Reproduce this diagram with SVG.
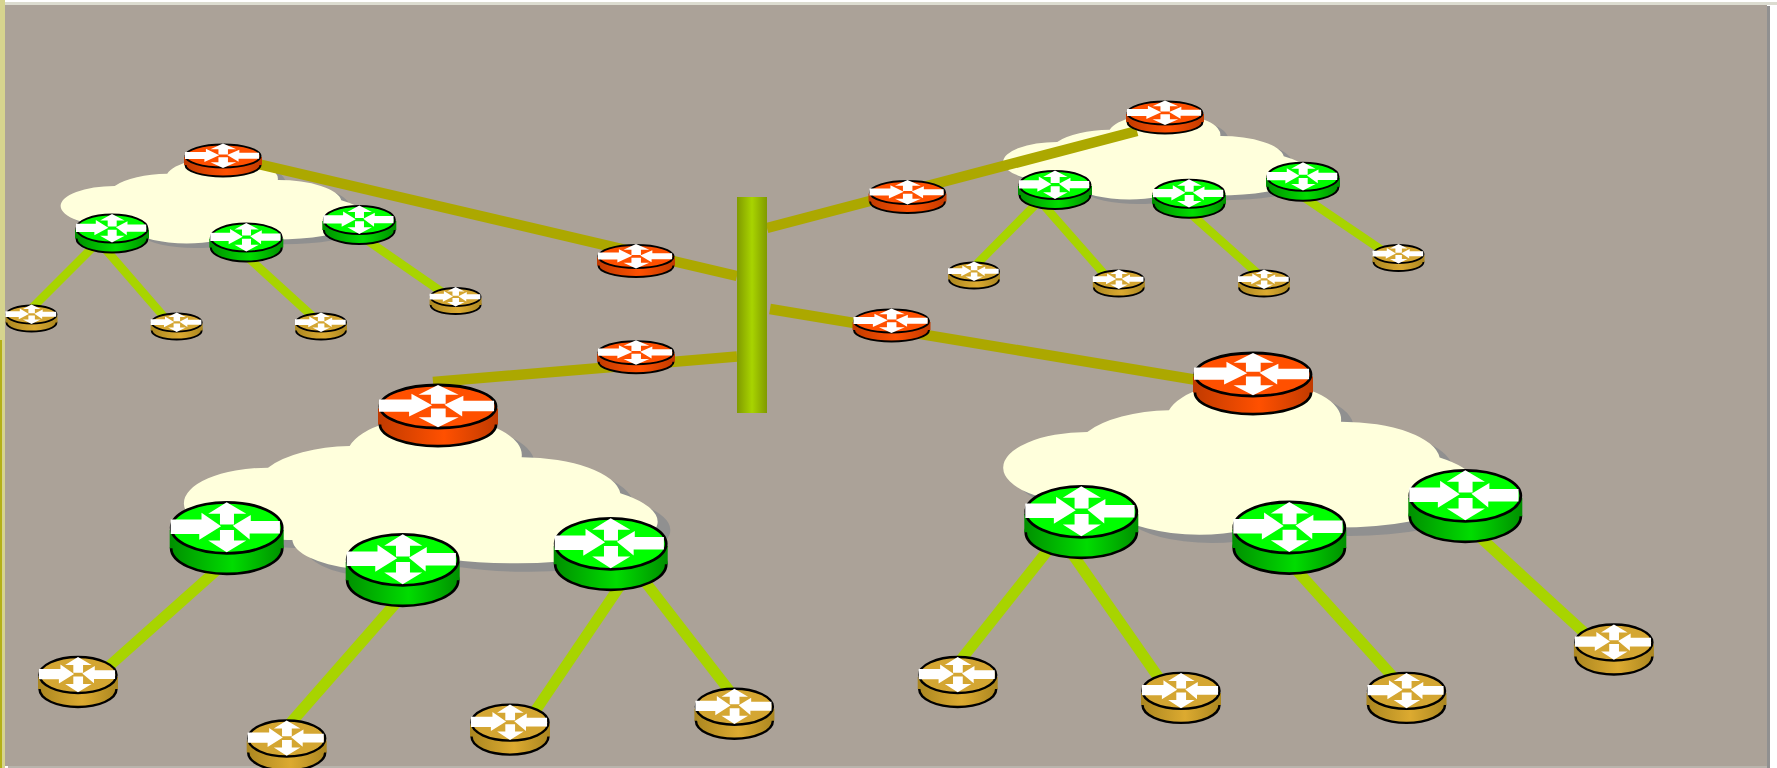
<svg xmlns="http://www.w3.org/2000/svg" width="1777" height="768" viewBox="0 0 1777 768">
<style>
.ol{fill:none;stroke:#aca800;stroke-width:10.5}
.lb{fill:none;stroke:#a8d400;stroke-width:11}
.ls{fill:none;stroke:#a8d400;stroke-width:8.5}
.o{stroke:#000}
.w{fill:#fff}
.r{fill:#ff5000}.g{fill:#00ff00}.t{fill:#d4a632}
</style>
<defs>
<linearGradient id="gr"><stop offset="0" stop-color="#c03a00"/><stop offset=".55" stop-color="#ff5000"/><stop offset="1" stop-color="#c03a00"/></linearGradient>
<linearGradient id="gg"><stop offset="0" stop-color="#008f00"/><stop offset=".55" stop-color="#00dc00"/><stop offset="1" stop-color="#008f00"/></linearGradient>
<linearGradient id="gt"><stop offset="0" stop-color="#aa8620"/><stop offset=".55" stop-color="#dcaa30"/><stop offset="1" stop-color="#aa8620"/></linearGradient>
<linearGradient id="gb"><stop offset="0" stop-color="#809a00"/><stop offset=".5" stop-color="#a8d400"/><stop offset="1" stop-color="#809a00"/></linearGradient>
<g id="arr">
<polygon class="w" points="-1,-.33 -.45,-.33 -.45,-.59 -.1,-.06 -.49,.47 -.49,.24 -1,.24"/>
<polygon class="w" points=".95,-.27 .43,-.27 .43,-.5 .11,-.08 .41,.46 .41,.22 .95,.22"/>
<polygon class="w" points="0,-1 -.33,-.55 -.12,-.55 -.12,-.13 .13,-.13 .13,-.55 .35,-.55"/>
<polygon class="w" points="0,.96 -.33,.5 -.12,.5 -.12,.09 .13,.09 .13,.5 .35,.5"/>
</g>
<g id="red-big"><ellipse cy="18" rx="58" ry="21.5" class="o" stroke-width="2.8"/><path d="M-60,2V18H-56.7A56.7,20.2 0 0 0 56.7,18H60V2Z" fill="url(#gr)"/><ellipse rx="58" ry="21.5" class="o r" stroke-width="2.8"/><use href="#arr" transform="scale(59,21.5)"/></g>
<g id="green-big"><ellipse cy="20.5" rx="55.5" ry="25.5" class="o" stroke-width="2.8"/><path d="M-57,2V20.5H-54.2A54.2,24.2 0 0 0 54.2,20.5H57V2Z" fill="url(#gg)"/><ellipse rx="55.5" ry="25.5" class="o g" stroke-width="2.8"/><use href="#arr" transform="scale(56,25.5)"/></g>
<g id="tan-big"><ellipse cy="14" rx="38.5" ry="18" class="o" stroke-width="2.4"/><path d="M-40,2V14H-37.3A37.3,16.8 0 0 0 37.3,14H40V2Z" fill="url(#gt)"/><ellipse rx="38.5" ry="18" class="o t" stroke-width="2.4"/><use href="#arr" transform="scale(39,18)"/></g>
<g id="red-small"><ellipse cy="9" rx="37.5" ry="11.5" class="o" stroke-width="2"/><path d="M-39,1V9H-36.5A36.5,10.5 0 0 0 36.5,9H39V1Z" fill="url(#gr)"/><ellipse rx="37.5" ry="11.5" class="o r" stroke-width="2"/><use href="#arr" transform="scale(38,12.5)"/></g>
<g id="green-small"><ellipse cy="10" rx="35.5" ry="14" class="o" stroke-width="2"/><path d="M-37,1V10H-34.5A34.5,13 0 0 0 34.5,10H37V1Z" fill="url(#gg)"/><ellipse rx="35.5" ry="14" class="o g" stroke-width="2"/><use href="#arr" transform="scale(36,14.5)"/></g>
<g id="tan-small"><ellipse cy="8" rx="25" ry="9" class="o" stroke-width="1.8"/><path d="M-26,1V8H-24.1A24.1,8.1 0 0 0 24.1,8H26V1Z" fill="url(#gt)"/><ellipse rx="25" ry="9" class="o t" stroke-width="1.8"/><use href="#arr" transform="scale(26,10)"/></g>
<path id="cl" d="M295,203A300,130 0 0 1 540,138A262,115 0 0 1 1056,172A296,118 0 0 1 1352,280A420,125 0 0 1 1040,490A420,125 0 0 1 835,477A264,94 0 0 1 368,420Q340,420 300,417A255,107 0 0 1 295,203Z"/>
</defs>
<rect width="1777" height="768" fill="#fff"/>
<g id="frame">
<rect x="0" y="2" width="1777" height="3" fill="#dcdcd0"/>
<rect x="8" y="766" width="1762" height="2" fill="#b8b4ac"/>
<rect x="1767" y="6" width="3" height="762" fill="#909090"/>
<rect x="0" y="0" width="5" height="768" fill="#d6d48e"/>
<rect x="0" y="340" width="2" height="428" fill="#b4b018"/>
<rect x="5" y="5" width="1762" height="761" fill="#aba298"/>
</g>
<g id="cloud-bl" transform="translate(169.7,400) scale(.3333)"><use href="#cl" fill="#909090" transform="translate(38,25)"/><use href="#cl" fill="#ffffdc"/></g>
<g id="cloud-br" transform="translate(989,364.3) scale(.3333)"><use href="#cl" fill="#909090" transform="translate(38,25)"/><use href="#cl" fill="#ffffdc"/></g>
<g id="cloud-tl" transform="translate(51.5,148) scale(.2143,.1867)"><use href="#cl" fill="#909090" transform="translate(38,25)"/><use href="#cl" fill="#ffffdc"/></g>
<g id="cloud-tr" transform="translate(994,104) scale(.2143,.1867)"><use href="#cl" fill="#909090" transform="translate(38,25)"/><use href="#cl" fill="#ffffdc"/></g>
<g id="connectors">
<path class="ol" d="M258,164L737,276"/>
<path class="ol" d="M767,228L1137,131"/>
<path class="ol" d="M770,309L1203,381"/>
<path class="ol" d="M737,356.5L433,382"/>
<path class="lb" d="M227,561L98,676"/>
<path class="lb" d="M402,596L280,735"/>
<path class="lb" d="M626,577L523,729"/>
<path class="lb" d="M636,570L742,707"/>
<path class="lb" d="M1060,535L952,671"/>
<path class="lb" d="M1066,545L1168,691"/>
<path class="lb" d="M1290,563L1404,689"/>
<path class="lb" d="M1470,528L1600,647"/>
<path class="ls" d="M100,240L28,312"/>
<path class="ls" d="M100,243L172,326"/>
<path class="ls" d="M243,253L322,325"/>
<path class="ls" d="M358,234L452,299"/>
<path class="ls" d="M1043,197L968,273"/>
<path class="ls" d="M1040,201L1113,284"/>
<path class="ls" d="M1182,206L1266,281"/>
<path class="ls" d="M1299,194L1395,259"/>
</g>
<g id="backbone"><rect x="737" y="197" width="30" height="216" fill="url(#gb)"/></g>
<g id="r1"><use href="#red-big" x="438" y="406.5"/></g>
<g id="r2"><use href="#red-big" x="1253" y="374.5"/></g>
<g id="r3"><use href="#red-small" x="636" y="256.5"/></g>
<g id="r4"><use href="#red-small" x="636" y="352.7"/></g>
<g id="r5"><use href="#red-small" x="223" y="156"/></g>
<g id="r6"><use href="#red-small" x="1165" y="113"/></g>
<g id="r7"><use href="#red-small" x="907.5" y="192.5"/></g>
<g id="r8"><use href="#red-small" x="891.5" y="321"/></g>
<g id="g1"><use href="#green-big" x="226.7" y="527.8"/></g>
<g id="g2"><use href="#green-big" x="402.7" y="559.8"/></g>
<g id="g3"><use href="#green-big" x="610.7" y="543.8"/></g>
<g id="g4"><use href="#green-big" x="1081.3" y="511.8"/></g>
<g id="g5"><use href="#green-big" x="1289.3" y="527.5"/></g>
<g id="g6"><use href="#green-big" x="1465.3" y="495.8"/></g>
<g id="g7"><use href="#green-small" x="112" y="228.5"/></g>
<g id="g8"><use href="#green-small" x="246.3" y="237.5"/></g>
<g id="g9"><use href="#green-small" x="359.3" y="220"/></g>
<g id="g10"><use href="#green-small" x="1055" y="185"/></g>
<g id="g11"><use href="#green-small" x="1189" y="193.7"/></g>
<g id="g12"><use href="#green-small" x="1303" y="176.7"/></g>
<g id="t1"><use href="#tan-big" x="78" y="675"/></g>
<g id="t2"><use href="#tan-big" x="286.7" y="738.5"/></g>
<g id="t3"><use href="#tan-big" x="510" y="722.6"/></g>
<g id="t4"><use href="#tan-big" x="734.4" y="706.7"/></g>
<g id="t5"><use href="#tan-big" x="957.7" y="675"/></g>
<g id="t6"><use href="#tan-big" x="1181" y="690.9"/></g>
<g id="t7"><use href="#tan-big" x="1406.5" y="690.9"/></g>
<g id="t8"><use href="#tan-big" x="1613.9" y="642.5"/></g>
<g id="t9"><use href="#tan-small" x="31.5" y="314.5"/></g>
<g id="t10"><use href="#tan-small" x="176.7" y="322.5"/></g>
<g id="t11"><use href="#tan-small" x="321" y="322.5"/></g>
<g id="t12"><use href="#tan-small" x="455.6" y="297"/></g>
<g id="t13"><use href="#tan-small" x="974" y="271.5"/></g>
<g id="t14"><use href="#tan-small" x="1118.8" y="279.5"/></g>
<g id="t15"><use href="#tan-small" x="1264" y="279.5"/></g>
<g id="t16"><use href="#tan-small" x="1398.5" y="254"/></g>
</svg>
